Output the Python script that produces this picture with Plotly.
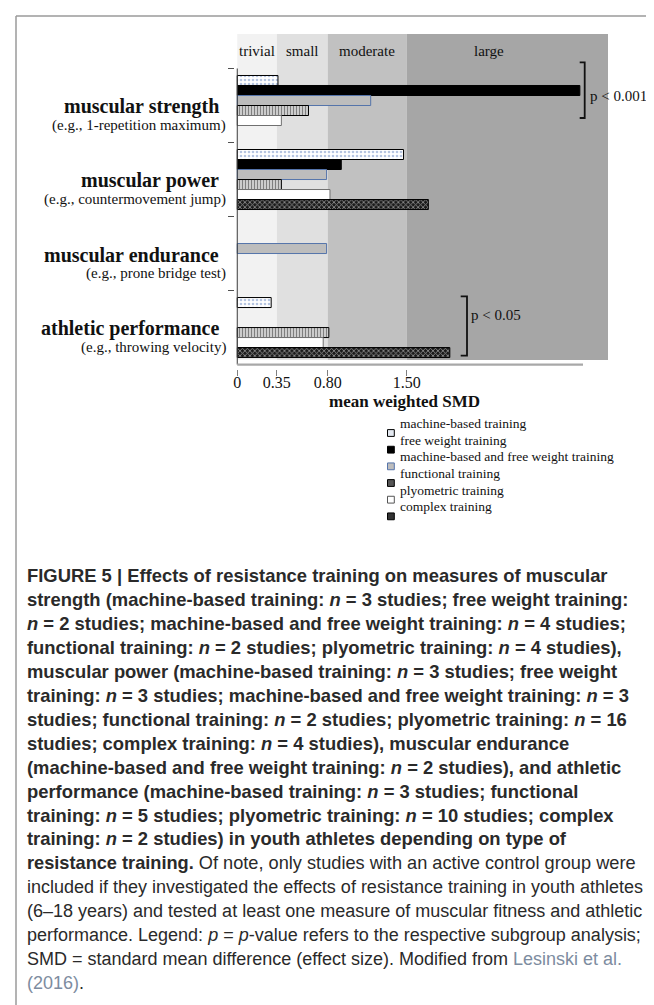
import plotly.graph_objects as go

# ---------------- data ----------------
CATEGORIES = ["muscular strength", "muscular power", "muscular endurance", "athletic performance"]
EXAMPLES = ["(e.g., 1-repetition maximum)", "(e.g., countermovement jump)",
            "(e.g., prone bridge test)", "(e.g., throwing velocity)"]
SERIES = ["machine-based training", "free weight training",
          "machine-based and free weight training", "functional training",
          "plyometric training", "complex training"]
MACHINE = [0.36, 1.47, None, 0.30]
FREE_WEIGHT = [3.03, 0.92, None, None]
MACHINE_FREE = [1.18, 0.79, 0.79, None]
FUNCTIONAL = [0.63, 0.39, None, 0.81]
PLYOMETRIC = [0.39, 0.82, None, 0.76]
COMPLEX = [None, 1.69, None, 1.88]
VALUES = [MACHINE, FREE_WEIGHT, MACHINE_FREE, FUNCTIONAL, PLYOMETRIC, COMPLEX]
BAND_EDGES = [0, 0.35, 0.80, 1.50]
BAND_LABELS = ["trivial", "small", "moderate", "large"]
TICK_VALUES = [0, 0.35, 0.80, 1.50]
TICK_LABELS = ["0", "0.35", "0.80", "1.50"]
P_LABELS = ["p &lt; 0.001", "p &lt; 0.05"]
X_TITLE = "mean weighted SMD"

CAPTION = [
    "<b>FIGURE 5 | Effects of resistance training on measures of muscular</b>",
    "<b>strength (machine-based training: <i>n</i> = 3 studies; free weight training:</b>",
    "<b><i>n</i> = 2 studies; machine-based and free weight training: <i>n</i> = 4 studies;</b>",
    "<b>functional training: <i>n</i> = 2 studies; plyometric training: <i>n</i> = 4 studies),</b>",
    "<b>muscular power (machine-based training: <i>n</i> = 3 studies; free weight</b>",
    "<b>training: <i>n</i> = 3 studies; machine-based and free weight training: <i>n</i> = 3</b>",
    "<b>studies; functional training: <i>n</i> = 2 studies; plyometric training: <i>n</i> = 16</b>",
    "<b>studies; complex training: <i>n</i> = 4 studies), muscular endurance</b>",
    "<b>(machine-based and free weight training: <i>n</i> = 2 studies), and athletic</b>",
    "<b>performance (machine-based training: <i>n</i> = 3 studies; functional</b>",
    "<b>training: <i>n</i> = 5 studies; plyometric training: <i>n</i> = 10 studies; complex</b>",
    "<b>training: <i>n</i> = 2 studies) in youth athletes depending on type of</b>",
    "<b>resistance training.</b> Of note, only studies with an active control group were",
    "included if they investigated the effects of resistance training in youth athletes",
    "(6–18 years) and tested at least one measure of muscular fitness and athletic",
    "performance. Legend: <i>p</i> = <i>p</i>-value refers to the respective subgroup analysis;",
    "SMD = standard mean difference (effect size). Modified from <span style='color:#7d8ca0'>Lesinski et al.</span>",
    "<span style='color:#7d8ca0'>(2016)</span>.",
]

# ---------------- layout geometry ----------------
W, H = 654, 1005
ML, MR, MT, MB = 227, 54, 26, 644
X_RANGE = [-0.02, 3.279]
Y_RANGE = [3.56, -0.966]
PW, PH = W - ML - MR, H - MT - MB
SERIF = "Liberation Serif, Times New Roman, serif"
SANS = "Liberation Sans, Arial, sans-serif"


def px_x(px):
    return (px - ML) / PW


def px_y(py):
    return (H - MB - py) / PH


def data_x(px):
    return X_RANGE[0] + (px - ML) * (X_RANGE[1] - X_RANGE[0]) / PW


def data_y(py):
    return Y_RANGE[1] + (py - MT) * (Y_RANGE[0] - Y_RANGE[1]) / PH


STYLES = [
    dict(color="white", pattern=dict(shape=".", fgcolor="#6d8cc4", bgcolor="white", size=4, solidity=0.35),
         line=dict(color="black", width=1)),
    dict(color="black", line=dict(color="black", width=1)),
    dict(color="#bdbdbd", line=dict(color="#5574aa", width=1)),
    dict(color="white", pattern=dict(shape="|", fgcolor="black", bgcolor="white", size=3, solidity=0.6),
         line=dict(color="black", width=1)),
    dict(color="white", line=dict(color="#707070", width=1)),
    dict(color="#1a1a1a", pattern=dict(shape="x", fgcolor="white", bgcolor="#1a1a1a", size=3.5, solidity=0.45),
         line=dict(color="black", width=1)),
]
SWATCH = [("#e4e9f1", "black"), ("black", "black"), ("#bdbdbd", "#5574aa"),
          ("#555555", "black"), ("white", "#555555"), ("#333333", "black")]
BAND_COLORS = ["#f2f2f2", "#e0e0e0", "#c1c1c1", "#a6a6a6"]
BAND_LABEL_X = [0.175, 0.575, 1.15, 2.23]

fig = go.Figure()
ypos = list(range(len(CATEGORIES)))
for name, vals, st in zip(SERIES, VALUES, STYLES):
    fig.add_trace(go.Bar(y=ypos, x=vals, name=name, orientation="h", marker=st,
                         showlegend=False, hoverinfo="x+name"))

shapes = []
annotations = []
# effect-size bands
band_hi = BAND_EDGES[1:] + [X_RANGE[1]]
for lo, hi, col in zip(BAND_EDGES, band_hi, BAND_COLORS):
    shapes.append(dict(type="rect", xref="x", yref="y", x0=lo, x1=hi, y0=Y_RANGE[1], y1=data_y(352),
                       fillcolor=col, line=dict(width=0), layer="below"))
for lab, bx in zip(BAND_LABELS, BAND_LABEL_X):
    annotations.append(dict(text=lab, x=bx, y=data_y(42.5), xref="x", yref="y", showarrow=False,
                            font=dict(family=SERIF, size=15, color="#111")))
# axis lines
shapes.append(dict(type="line", xref="x", yref="y", x0=0, x1=0, y0=-0.5, y1=3.5,
                   line=dict(color="#3a3a3a", width=1)))
shapes.append(dict(type="line", xref="x", yref="y", x0=0, x1=data_x(575), y0=3.5, y1=3.5,
                   line=dict(color="#a8a8a8", width=2.2)))
# category labels
for i, (c, e) in enumerate(zip(CATEGORIES, EXAMPLES)):
    annotations.append(dict(text="<b>" + c + "</b>", x=px_x(213), xanchor="right", y=i, yref="y",
                            xref="paper", yshift=-1.3, showarrow=False,
                            font=dict(family=SERIF, size=20, color="#111")))
    annotations.append(dict(text=e, x=px_x(220), xanchor="right", y=i, yref="y",
                            xref="paper", yshift=-19.5, showarrow=False,
                            font=dict(family=SERIF, size=15, color="#111")))
# significance brackets
BRACKETS = [(571.7, 576.7, 54.3, 110.0, 580.0, 78.0), (452.7, 459.0, 288.3, 347.7, 461.0, 316.7)]
for (xt, xv, yt, yb, tx, ty), lab in zip(BRACKETS, P_LABELS):
    path = "M{a},{b} L{c},{b} L{c},{d} L{a},{d}".format(a=data_x(xt), b=data_y(yt), c=data_x(xv), d=data_y(yb))
    shapes.append(dict(type="path", xref="x", yref="y", path=path, line=dict(color="#111", width=1.8)))
    annotations.append(dict(text=lab, x=px_x(tx), y=px_y(ty), xref="paper", yref="paper", xanchor="left",
                            showarrow=False, font=dict(family=SERIF, size=15, color="#111")))
# axis title
annotations.append(dict(text="<b>" + X_TITLE + "</b>", x=px_x(396), y=px_y(405), xref="paper", yref="paper",
                        showarrow=False, font=dict(family=SERIF, size=17, color="#111")))
# legend
for i, (name, (fc, lc)) in enumerate(zip(SERIES, SWATCH)):
    yc = 425 + 16.67 * i
    shapes.append(dict(type="rect", xref="paper", yref="paper", x0=px_x(379.5), x1=px_x(386.3),
                       y0=px_y(yc + 3.4), y1=px_y(yc - 3.4), fillcolor=fc, line=dict(color=lc, width=1)))
    annotations.append(dict(text=name, x=px_x(389.5), y=px_y(yc), xref="paper", yref="paper", xanchor="left",
                            showarrow=False, font=dict(family=SERIF, size=13.5, color="#111")))
# frame
for (x0, y0, x1, y1) in [(8, 8, 646, 8), (8, 8, 8, 1005), (646, 8, 646, 560)]:
    shapes.append(dict(type="line", xref="paper", yref="paper", x0=px_x(x0), x1=px_x(x1),
                       y0=px_y(y0), y1=px_y(y1), line=dict(color="#9a9a9a", width=1.5)))
# caption
for i, line in enumerate(CAPTION):
    if i < 12:
        fs = 18.4
    elif i == 12:
        fs = 18.2
    else:
        fs = 18
    annotations.append(dict(text=line, x=px_x(17), y=px_y(580 + 23.95 * i), xref="paper", yref="paper",
                            xanchor="left", showarrow=False, align="left",
                            font=dict(family=SANS, size=fs, color="#2a2a2a")))

fig.update_layout(
    width=W, height=H, margin=dict(l=ML, r=MR, t=MT, b=MB, pad=0, autoexpand=False),
    paper_bgcolor="white", plot_bgcolor="white",
    barmode="group", bargap=0.189, bargroupgap=0,
    font=dict(family=SERIF, color="#111"),
    shapes=shapes, annotations=annotations, showlegend=False,
    xaxis=dict(range=X_RANGE, tickvals=TICK_VALUES, ticktext=TICK_LABELS, ticks="outside", ticklen=6,
               tickcolor="#808080", showgrid=False, zeroline=False, showline=False, ticklabelstandoff=-7,
               tickfont=dict(family=SERIF, size=16, color="#111"), automargin=False, fixedrange=True),
    yaxis=dict(range=Y_RANGE, tickvals=[-0.5, 0.5, 1.5, 2.5], ticks="outside", ticklen=6,
               tickcolor="#505050", showticklabels=False, showgrid=False, zeroline=False, showline=False,
               automargin=False, fixedrange=True),
)
fig.write_html("out.html")
